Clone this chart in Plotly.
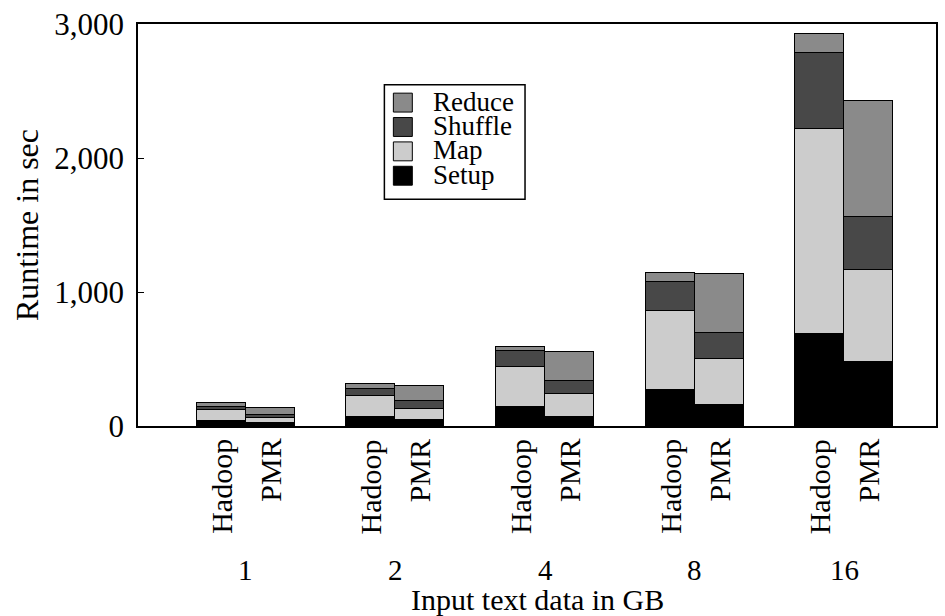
import plotly.graph_objects as go

groups = ["1", "2", "4", "8", "16"]
systems = ["Hadoop", "PMR"]

setup_hadoop = [39, 69, 144, 267, 688]
map_hadoop = [80, 156, 297, 594, 1532]
shuffle_hadoop = [20, 52, 116, 213, 560]
reduce_hadoop = [30, 33, 32, 67, 143]

setup_pmr = [20, 45, 64, 156, 475]
map_pmr = [40, 81, 176, 344, 691]
shuffle_pmr = [25, 57, 94, 196, 391]
reduce_pmr = [51, 112, 215, 438, 871]

series = [
    ("Setup", setup_hadoop, setup_pmr, "#000000"),
    ("Map", map_hadoop, map_pmr, "#cccccc"),
    ("Shuffle", shuffle_hadoop, shuffle_pmr, "#484848"),
    ("Reduce", reduce_hadoop, reduce_pmr, "#8a8a8a"),
]

off = 0.1633
bw = 0.3267
FONT = "Liberation Serif, Times New Roman, serif"

W, H = 945, 616
ML, MR, MT, MB = 138, 7, 22, 190
PW, PH = W - ML - MR, H - MT - MB


def px(xp):
    return (xp - ML) / PW


def py(yp):
    return (H - MB - yp) / PH


xs = []
for i in range(len(groups)):
    xs += [i - off, i + off]

fig = go.Figure()
for name, h, p, col in series:
    ys = []
    for a, b in zip(h, p):
        ys += [a, b]
    fig.add_trace(go.Bar(
        x=xs, y=ys, name=name, width=bw, showlegend=False,
        marker=dict(color=col, line=dict(color="black", width=1)),
    ))

ann = []
for i, g in enumerate(groups):
    for j, s in enumerate(systems):
        ann.append(dict(
            x=i + (-off if j == 0 else off), xref="x", y=0, yref="paper",
            text=s, textangle=-90, showarrow=False,
            xanchor="center", yanchor="top", yshift=-11,
            font=dict(family=FONT, size=30, color="black"),
        ))
    ann.append(dict(
        x=i, xref="x", y=0, yref="paper", text=g, showarrow=False,
        xanchor="center", yanchor="top", yshift=-126,
        font=dict(family=FONT, size=29, color="black"),
    ))
ann.append(dict(
    x=0.5, xref="paper", y=0, yref="paper", text="Input text data in GB",
    showarrow=False, xanchor="center", yanchor="top", yshift=-155,
    font=dict(family=FONT, size=30, color="black"),
))

# manual legend (compact, like the reference)
shapes = [dict(type="rect", xref="paper", yref="paper",
               x0=px(385), x1=px(526), y0=py(198), y1=py(83),
               line=dict(color="black", width=1.5), fillcolor="white", layer="above")]
leg_rows = [s for s in reversed(series)]
for k, (name, _h, _p, col) in enumerate(leg_rows):
    cy = 101 + 24.5 * k
    shapes.append(dict(type="rect", xref="paper", yref="paper",
                       x0=px(394), x1=px(413), y0=py(cy + 9.5), y1=py(cy - 9.5),
                       line=dict(color="black", width=1), fillcolor=col, layer="above"))
    ann.append(dict(x=px(432), xref="paper", y=py(cy - 1), yref="paper", text=name,
                    showarrow=False, xanchor="left", yanchor="middle",
                    font=dict(family=FONT, size=27, color="black")))

fig.update_layout(
    width=W, height=H,
    barmode="stack",
    bargap=0,
    plot_bgcolor="white", paper_bgcolor="white",
    margin=dict(l=ML, r=MR, t=MT, b=MB),
    font=dict(family=FONT, size=30, color="black"),
    showlegend=False,
    annotations=ann,
    shapes=shapes,
    xaxis=dict(
        range=[-0.72, 4.613], showticklabels=False, ticks="",
        showgrid=False, zeroline=False,
        showline=True, linecolor="black", linewidth=1.5, mirror=True,
    ),
    yaxis=dict(
        range=[0, 3000], tickvals=[0, 1000, 2000, 3000], tickformat=",d",
        ticks="inside", ticklen=6, tickcolor="black",
        showgrid=False, zeroline=False,
        showline=True, linecolor="black", linewidth=1.5, mirror=True,
        title=dict(text="Runtime in sec", font=dict(family=FONT, size=32), standoff=6),
        tickfont=dict(family=FONT, size=31),
        ticklabelstandoff=6,
    ),
)

fig.write_html("out.html")
